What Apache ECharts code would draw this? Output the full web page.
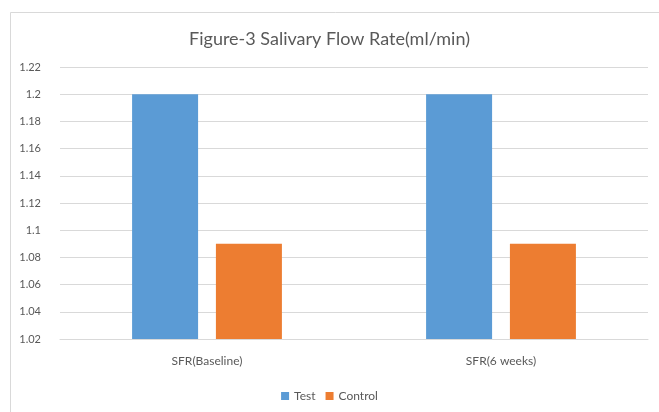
<!DOCTYPE html>
<html>
<head>
<meta charset="utf-8">
<script src="https://cdn.jsdelivr.net/npm/echarts@6/dist/echarts.min.js"></script>
<style>
  html, body { margin: 0; padding: 0; background: #fff; }
  #chart { width: 659px; height: 412px; }
</style>
</head>
<body>
<div id="chart"></div>
<script>
const categories = ['SFR(Baseline)', 'SFR(6 weeks)'];
const testValues = [1.2, 1.2];
const controlValues = [1.09, 1.09];

const font = 'Lato, "Open Sans", sans-serif';

const chart = echarts.init(document.getElementById('chart'), null, { renderer: 'canvas' });

const option = {
  backgroundColor: '#fff',
  animation: false,
  graphic: [{
    type: 'rect',
    shape: { x: 10.5, y: 12.5, width: 700, height: 500 },
    style: { fill: 'none', stroke: '#d9d9d9', lineWidth: 1 },
    z: -1
  }],
  title: {
    text: 'Figure-3 Salivary Flow Rate(ml/min)',
    left: 'center',
    top: 25,
    textStyle: { fontFamily: font, fontSize: 18, fontWeight: 'normal', color: '#595959' }
  },
  legend: {
    data: ['Test', 'Control'],
    bottom: 5,
    left: 'center',
    icon: 'rect',
    itemWidth: 8,
    itemHeight: 8,
    itemGap: 10,
    textStyle: { fontFamily: font, fontSize: 12, color: '#595959' }
  },
  grid: { left: 60, right: 11, top: 67, bottom: 73, containLabel: false },
  xAxis: {
    type: 'category',
    data: categories,
    axisLine: { lineStyle: { color: '#d9d9d9' } },
    axisTick: { show: false },
    axisLabel: { fontFamily: font, fontSize: 12, color: '#595959', margin: 16 }
  },
  yAxis: {
    type: 'value',
    min: 1.02,
    max: 1.22,
    interval: 0.02,
    axisLine: { show: false },
    axisTick: { show: false },
    splitLine: { lineStyle: { color: '#d9d9d9' } },
    axisLabel: {
      fontFamily: font, fontSize: 11, color: '#595959', margin: 19,
      formatter: v => String(Math.round(v * 100) / 100)
    }
  },
  series: [
    {
      name: 'Test',
      type: 'bar',
      data: testValues,
      barWidth: 66,
      barGap: '27%',
      itemStyle: { color: '#5B9BD5' }
    },
    {
      name: 'Control',
      type: 'bar',
      data: controlValues,
      barWidth: 66,
      itemStyle: { color: '#ED7D31' }
    }
  ]
};

chart.setOption(option);
</script>
</body>
</html>
